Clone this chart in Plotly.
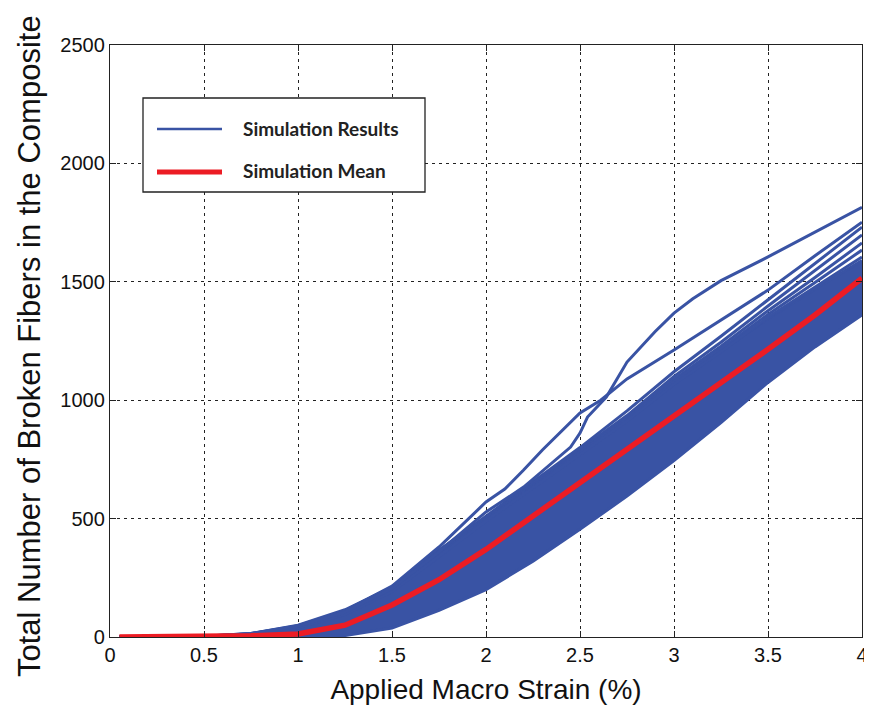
import plotly.graph_objects as go

# ---------------- data ----------------
strain = [0.05, 0.25, 0.5, 0.75, 1.0, 1.25, 1.5, 1.75, 2.0, 2.25, 2.5, 2.75, 3.0, 3.25, 3.5, 3.75, 4.0]

mean_broken = [0, 0, 2, 5, 13, 50, 135, 242, 370, 510, 655, 795, 935, 1075, 1215, 1360, 1515]

band_lower = [0, 0, 0, 0, 0, 6, 38, 112, 200, 320, 455, 595, 745, 905, 1075, 1225, 1360]
band_upper = [0, 0, 3, 15, 50, 115, 211, 367, 505, 645, 780, 920, 1070, 1210, 1345, 1470, 1590]

run_s1 = [0, 0, 2, 14, 45, 108, 210, 365, 510, 655, 800, 955, 1120, 1270, 1425, 1580, 1731]
run_s2 = [0, 0, 2, 13, 43, 105, 205, 358, 505, 648, 790, 935, 1100, 1245, 1398, 1548, 1698]
run_s3 = [0, 0, 2, 12, 40, 100, 200, 350, 500, 640, 785, 925, 1088, 1228, 1378, 1518, 1664]
run_s4 = [0, 0, 2, 12, 40, 100, 198, 345, 495, 635, 780, 920, 1078, 1216, 1362, 1497, 1634]
run_s5 = [0, 0, 2, 11, 38, 96, 192, 340, 490, 630, 772, 912, 1068, 1205, 1350, 1478, 1605]

run_a_strain = [0.05, 0.5, 0.75, 1.0, 1.25, 1.5, 1.75, 2.0, 2.1, 2.2, 2.3, 2.4, 2.5, 2.61, 2.75, 3.0, 3.25, 3.5, 3.75, 4.0]
run_a = [0, 3, 15, 48, 110, 215, 380, 570, 625, 705, 790, 870, 946, 1000, 1090, 1212, 1340, 1465, 1610, 1752]

run_b_strain = [0.05, 0.5, 0.75, 1.0, 1.25, 1.5, 1.75, 2.0, 2.2, 2.39, 2.45, 2.5, 2.54, 2.64, 2.75, 2.9, 3.0, 3.1, 3.25, 3.5, 3.75, 4.0]
run_b = [0, 3, 14, 45, 105, 205, 360, 528, 633, 760, 802, 861, 929, 1013, 1161, 1290, 1368, 1428, 1505, 1605, 1710, 1815]

x_ticks = [0, 0.5, 1, 1.5, 2, 2.5, 3, 3.5, 4]
x_tick_labels = ["0", "0.5", "1", "1.5", "2", "2.5", "3", "3.5", "4"]
y_ticks = [0, 500, 1000, 1500, 2000, 2500]
y_tick_labels = ["0", "500", "1000", "1500", "2000", "2500"]

legend_labels = ["Simulation Results", "Simulation Mean"]
x_title = "Applied Macro Strain (%)"
y_title = "Total Number of Broken Fibers in the Composite"

# ---------------- style ----------------
BLUE = "#3953A4"
RED = "#EC1C24"

fig = go.Figure()

# dense band of simulation runs
fig.add_trace(go.Scatter(x=strain, y=band_lower, mode="lines",
                         line=dict(color=BLUE, width=3), showlegend=False,
                         hoverinfo="skip"))
fig.add_trace(go.Scatter(x=strain, y=band_upper, mode="lines", fill="tonexty",
                         fillcolor=BLUE, line=dict(color=BLUE, width=3),
                         showlegend=False, hoverinfo="skip"))

for run in [run_s1, run_s2, run_s3, run_s4, run_s5]:
    fig.add_trace(go.Scatter(x=strain, y=run, mode="lines",
                             line=dict(color=BLUE, width=3), showlegend=False))

fig.add_trace(go.Scatter(x=run_a_strain, y=run_a, mode="lines",
                         line=dict(color=BLUE, width=3), showlegend=False))
fig.add_trace(go.Scatter(x=run_b_strain, y=run_b, mode="lines",
                         line=dict(color=BLUE, width=3), showlegend=False))

fig.add_trace(go.Scatter(x=strain, y=mean_broken, mode="lines",
                         line=dict(color=RED, width=5.5), showlegend=False))

# ---------------- custom legend box (paper coords relative to plot area) ----------------
PLOT_L, PLOT_R, PLOT_T, PLOT_B = 110, 862, 45, 637

def px_x(p):
    return (p - PLOT_L) / float(PLOT_R - PLOT_L)

def px_y(p):
    return (PLOT_B - p) / float(PLOT_B - PLOT_T)

shapes = [
    dict(type="rect", xref="paper", yref="paper",
         x0=px_x(143), x1=px_x(425), y0=px_y(192), y1=px_y(98),
         line=dict(color="#222", width=1.3), fillcolor="white", layer="above"),
    dict(type="line", xref="paper", yref="paper",
         x0=px_x(157), x1=px_x(222), y0=px_y(129), y1=px_y(129),
         line=dict(color=BLUE, width=2.5), layer="above"),
    dict(type="line", xref="paper", yref="paper",
         x0=px_x(157), x1=px_x(222), y0=px_y(172), y1=px_y(172),
         line=dict(color=RED, width=5), layer="above"),
]
annotations = [
    dict(text="<b>%s</b>" % legend_labels[0], xref="paper", yref="paper",
         x=px_x(241), y=px_y(128), xanchor="left", yanchor="middle",
         showarrow=False, font=dict(family="Lato", size=19, color="#222")),
    dict(text="<b>%s</b>" % legend_labels[1], xref="paper", yref="paper",
         x=px_x(241), y=px_y(170), xanchor="left", yanchor="middle",
         showarrow=False, font=dict(family="Lato", size=19, color="#222")),
    dict(text=y_title, xref="paper", yref="paper",
         x=px_x(29), y=px_y(346), xanchor="center", yanchor="middle",
         textangle=-90, showarrow=False,
         font=dict(family="Liberation Sans, Arial", size=31, color="#111")),
]

axis_common = dict(
    showline=True, linecolor="#222", linewidth=1.3, mirror="ticks",
    ticks="inside", ticklen=6, tickcolor="#222",
    showgrid=True, gridcolor="#222", gridwidth=1, griddash="3px,4px",
    zeroline=False, automargin=False, ticklabeloverflow="allow",
    tickfont=dict(family="Liberation Sans, Arial", size=20, color="#111"),
)

# the page body has an 8px margin, so the figure is sized/offset to compensate
fig.update_layout(
    width=864, height=700,
    margin=dict(l=102, r=10, t=37, b=71),
    paper_bgcolor="white", plot_bgcolor="white",
    showlegend=False,
    shapes=shapes, annotations=annotations,
    xaxis=dict(axis_common, range=[0, 4], tickvals=x_ticks, ticktext=x_tick_labels,
               title=dict(text=x_title, standoff=14,
                          font=dict(family="Liberation Sans, Arial", size=28, color="#111"))),
    yaxis=dict(axis_common, range=[0, 2500], tickvals=y_ticks, ticktext=y_tick_labels),
)

fig.write_html("out.html")
